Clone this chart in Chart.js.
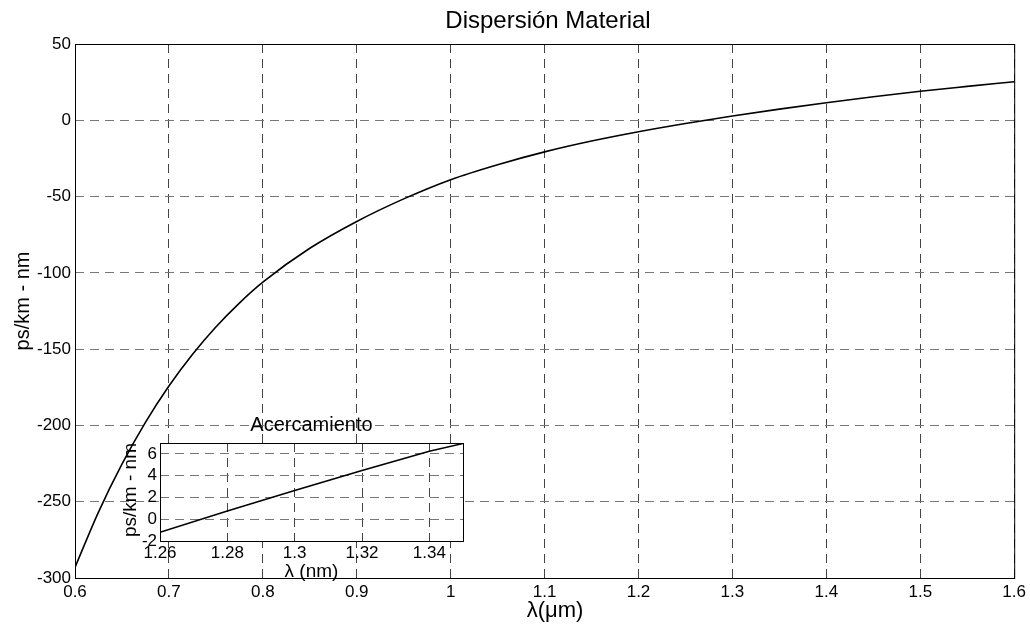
<!DOCTYPE html>
<html>
<head>
<meta charset="utf-8">
<script src="https://cdn.jsdelivr.net/npm/chart.js@4.4.1/dist/chart.umd.min.js"></script>
<style>
  html, body { margin: 0; padding: 0; background: #fff; }
  #wrap { position: relative; width: 1030px; height: 625px; }
  #main { position: absolute; left: 0; top: 0; }
  #zoom { position: absolute; left: 100px; top: 410px; }
</style>
</head>
<body>
<div id="wrap">
  <canvas id="main" width="1030" height="625"></canvas>
  <canvas id="zoom" width="380" height="180"></canvas>
</div>
<script>
  // Main curve: material dispersion (ps/km-nm) vs wavelength (um)
  const lambda = [0.6, 0.625, 0.65, 0.675, 0.7, 0.725, 0.75, 0.775, 0.8, 0.85, 0.9, 0.95,
                  1.0, 1.05, 1.1, 1.15, 1.2, 1.25, 1.3, 1.35, 1.4, 1.45, 1.5, 1.55, 1.6];
  const dispersion = [-293, -256.8, -225.4, -198, -174.2, -153.5, -135.5, -119.8, -106.1, -83.9, -66.3, -51.5,
                      -38.9, -29.1, -20.7, -13.6, -7.5, -2.1, 2.8, 7.3, 11.5, 15.4, 19.0, 22.2, 25.3];
  const xTicks = [0.6, 0.7, 0.8, 0.9, 1.0, 1.1, 1.2, 1.3, 1.4, 1.5, 1.6];
  const yTicks = [50, 0, -50, -100, -150, -200, -250, -300];

  // Inset ("Acercamiento") around the zero-dispersion wavelength
  const zoomLambda = [1.26, 1.28, 1.30, 1.32, 1.34, 1.35];
  const zoomDispersion = [-1.2, 0.75, 2.63, 4.48, 6.25, 6.95];
  const zoomXTicks = [1.26, 1.28, 1.30, 1.32, 1.34];
  const zoomYTicks = [-2, 0, 2, 4, 6];

  const titleText = 'Dispersión Material';
  const xLabel = 'λ(μm)';
  const yLabel = 'ps/km - nm';
  const zoomTitle = 'Acercamiento';
  const zoomXLabel = 'λ (nm)';
  const zoomYLabel = 'ps/km - nm';

  const family = "'Liberation Sans', Arial, sans-serif";
  const fmt = v => String(+(+v).toFixed(2));

  // draws white plot background, black box and the free texts
  function framePlugin(id, texts, fillBg) {
    return {
      id,
      beforeDraw(chart) {
        if (!fillBg) return;
        const { ctx, chartArea: a } = chart;
        ctx.save();
        ctx.fillStyle = '#fff';
        ctx.fillRect(a.left, a.top, a.right - a.left, a.bottom - a.top);
        ctx.restore();
      },
      afterDraw(chart) {
        const { ctx, chartArea: a } = chart;
        ctx.save();
        ctx.strokeStyle = '#000';
        ctx.lineWidth = 1;
        ctx.strokeRect(a.left + 0.5, a.top + 0.5, a.right - a.left, a.bottom - a.top);
        ctx.fillStyle = '#000';
        ctx.textBaseline = 'alphabetic';
        texts(a).forEach(t => {
          ctx.save();
          ctx.font = t.size + 'px ' + family;
          ctx.textAlign = 'center';
          ctx.translate(t.x, t.y);
          if (t.rot) ctx.rotate(-Math.PI / 2);
          ctx.fillText(t.text, 0, 0);
          ctx.restore();
        });
        ctx.restore();
      }
    };
  }

  function axis(min, max, ticks, fit, gridColor, padding) {
    return {
      type: 'linear',
      min, max,
      afterFit: fit,
      afterBuildTicks: s => { s.ticks = ticks.map(v => ({ value: v })); },
      ticks: {
        font: { family, size: 17 }, color: '#000', padding,
        autoSkip: false, maxRotation: 0, callback: fmt
      },
      grid: { color: gridColor, lineWidth: 1, drawTicks: false },
      border: { display: false, dash: [9, 6] }
    };
  }

  new Chart(document.getElementById('main'), {
    type: 'line',
    data: {
      datasets: [{
        data: lambda.map((x, i) => ({ x, y: dispersion[i] })),
        borderColor: '#000', borderWidth: 1.6, pointRadius: 0,
        cubicInterpolationMode: 'monotone', fill: false
      }]
    },
    options: {
      responsive: false, animation: false, events: [],
      layout: { padding: { left: 0, top: 44, right: 14, bottom: 0 } },
      plugins: { legend: { display: false }, tooltip: { enabled: false } },
      scales: {
        x: axis(0.6, 1.6, xTicks, s => { s.height = 47; }, '#444', 4),
        y: axis(-300, 50, yTicks, s => { s.width = 75; }, '#777', 4)
      }
    },
    plugins: [framePlugin('mainFrame', a => [
      { text: titleText, size: 24, x: 548, y: 28 },
      { text: xLabel, size: 22, x: 555, y: 617 },
      { text: yLabel, size: 20, x: 29, y: 301, rot: true }
    ], false)]
  });

  new Chart(document.getElementById('zoom'), {
    type: 'line',
    data: {
      datasets: [{
        data: zoomLambda.map((x, i) => ({ x, y: zoomDispersion[i] })),
        borderColor: '#000', borderWidth: 1.6, pointRadius: 0, fill: false
      }]
    },
    options: {
      responsive: false, animation: false, events: [],
      layout: { padding: { left: 0, top: 33, right: 17, bottom: 0 } },
      plugins: { legend: { display: false }, tooltip: { enabled: false } },
      scales: {
        x: axis(1.26, 1.35, zoomXTicks, s => { s.height = 49; }, '#444', 2),
        y: axis(-2, 7, zoomYTicks, s => { s.width = 60; }, '#777', 3)
      }
    },
    plugins: [framePlugin('zoomFrame', a => [
      { text: zoomTitle, size: 20, x: (a.left + a.right) / 2, y: 21 },
      { text: zoomXLabel, size: 19, x: (a.left + a.right) / 2, y: 167 },
      { text: zoomYLabel, size: 19, x: 36, y: 80, rot: true }
    ], true)]
  });
</script>
</body>
</html>
